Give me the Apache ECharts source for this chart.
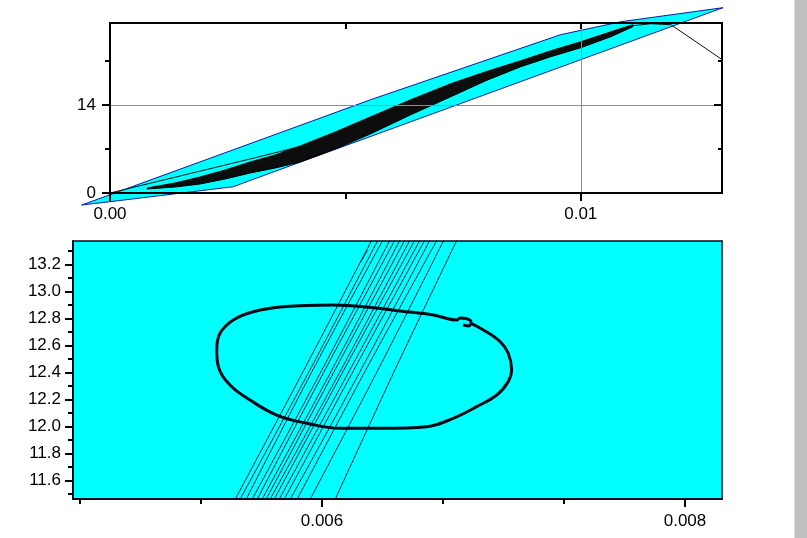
<!DOCTYPE html>
<html>
<head>
<meta charset="utf-8">
<script src="https://cdn.jsdelivr.net/npm/echarts@6/dist/echarts.min.js"></script>
<style>
  html, body { margin: 0; padding: 0; background: #fff; }
  #main { width: 807px; height: 538px; }
</style>
</head>
<body>
<div id="main"></div>
<script>
// tick values, top panel
var topXTicks = [0, 0.01];
var topXMinor = [0.005];
var topYTicks = [0, 14];
var topYMinor = [7, 21];

// tick values, bottom (zoomed) panel
var botXTicks = [0.006, 0.008];
var botXMinor = [0.004667, 0.005333, 0.006667, 0.007333];
var botYTicks = [11.6, 11.8, 12.0, 12.2, 12.4, 12.6, 12.8, 13.0, 13.2];
var botYMinor = [11.5, 11.7, 11.9, 12.1, 12.3, 12.5, 12.7, 12.9, 13.1, 13.3];

// cyan envelope in the top panel
var bandX = [-0.0006, 0.00553, 0.00957, 0.01085, 0.01302, 0.00283, 0.00262, 0, -0.0006];
var bandY = [-1.91, 14.8, 25.14, 27.2, 29.43, 1.59, 1.0, -1.38, -1.91];

// dense bundle of loops (black wedge): lower edge then upper edge
var loopX = [0.000787, 0.001383, 0.001915, 0.002447, 0.002979, 0.003511, 0.004043, 0.004787, 0.005532,
             0.006383, 0.007234, 0.007979, 0.008723, 0.009362, 0.01, 0.010638, 0.011106,
             0.011106, 0.010638, 0.01, 0.009362, 0.008723, 0.007979, 0.007234, 0.006383, 0.005532,
             0.004787, 0.004043, 0.003511, 0.002979, 0.002447, 0.001915, 0.001383, 0.000787];
var loopY = [0.64, 0.955, 1.43, 2.23, 3.18, 3.98, 4.93, 7.0, 9.39,
             12.41, 15.27, 17.82, 20.05, 21.64, 23.07, 24.82, 26.41,
             26.73, 25.61, 24.02, 22.59, 21.0, 19.25, 17.34, 14.8, 12.09,
             9.7, 7.48, 6.05, 4.93, 3.66, 2.55, 1.59, 0.8];

// thin lines at both ends of the bundle
var leadX = [0, 0.001489, 0.002979, 0.004043];
var leadY = [0, 2.705, 5.409, 7.4];
var tailX = [0.011106, 0.011489, 0.011915, 0.013];
var tailY = [26.57, 26.89, 26.73, 21.2];

// bottom panel: thick closed loop
var ringX = [0.006815, 0.006889, 0.006981, 0.007026, 0.007045, 0.007026, 0.006963, 0.006852, 0.006723,
             0.006577, 0.006338, 0.006099, 0.005916, 0.00575, 0.005603, 0.005493, 0.005429, 0.00542,
             0.005438, 0.005511, 0.005621, 0.005787, 0.006062, 0.006283, 0.00643, 0.006613, 0.006742,
             0.00676, 0.006793, 0.006821, 0.00681, 0.006777];
var ringY = [12.766, 12.714, 12.628, 12.542, 12.418, 12.332, 12.233, 12.147, 12.061,
             11.999, 11.987, 11.987, 12.024, 12.085, 12.196, 12.307, 12.443, 12.566,
             12.69, 12.788, 12.849, 12.886, 12.899, 12.879, 12.855, 12.825, 12.788,
             12.803, 12.799, 12.773, 12.744, 12.751];

// bottom panel: thin crossing lines, x at three heights
var fiberY = [11.46, 12.42, 13.38];
var fiberBotX = [0.005521, 0.005548, 0.005581, 0.005614, 0.005642, 0.005669, 0.005691, 0.005713,
                 0.005736, 0.005763, 0.005791, 0.005824, 0.005862, 0.005934, 0.006072];
var fiberMidX = [0.005901, 0.005934, 0.00595, 0.006, 0.006017, 0.006055, 0.006072, 0.006105,
                 0.006121, 0.006154, 0.006176, 0.006215, 0.006242, 0.006309, 0.006402];
var fiberTopX = [0.006275, 0.006309, 0.006336, 0.006375, 0.006402, 0.00643, 0.006457, 0.006485,
                 0.006512, 0.00654, 0.006567, 0.006595, 0.006634, 0.006672, 0.006744];
var kinkX = [0.006228, 0.006212, 0.006242, 0.006252];
var kinkY = [13.25, 13.217, 13.284, 13.30];

var font = { fontFamily: 'Liberation Sans, Arial, sans-serif', fontSize: 17, color: '#000' };
var ink = '#000';

function pairs(xs, ys) {
  return xs.map(function (x, i) { return [x, ys[i]]; });
}

function tickAxis(extra) {
  var base = {
    z: 5,
    axisLine: { show: false, onZero: false },
    axisTick: { show: false },
    axisLabel: { show: false },
    splitLine: { show: false }
  };
  return Object.assign(base, extra);
}

var myChart = echarts.init(document.getElementById('main'), null, { renderer: 'canvas' });

var fiberSeries = fiberBotX.map(function (b, i) {
  return {
    type: 'line', xAxisIndex: 3, yAxisIndex: 4, z: 3, silent: true,
    showSymbol: false, symbol: 'none', smooth: 0.3,
    lineStyle: { color: '#0b1a38', width: 1 },
    data: [[b, fiberY[0]], [fiberMidX[i], fiberY[1]], [fiberTopX[i], fiberY[2]]]
  };
});

var topX = { type: 'value', gridIndex: 0, min: 0, max: 0.013 };
var topY = { type: 'value', gridIndex: 0, min: 0, max: 27 };
var botX = { type: 'value', gridIndex: 1, min: 0.004628, max: 0.008204 };
var botY = { type: 'value', gridIndex: 1, min: 11.464, max: 13.372 };

let option = {
  animation: false,
  backgroundColor: '#fff',
  grid: [
    { left: 110, top: 23, width: 612, height: 170, outerBoundsMode: 'none', show: false },
    { left: 73, top: 241, width: 649, height: 258, outerBoundsMode: 'none', show: true,
      backgroundColor: '#00ffff', borderWidth: 0 }
  ],
  xAxis: [
    tickAxis(Object.assign({}, topX, {
      position: 'bottom',
      axisLine: { show: true, onZero: false, lineStyle: { color: ink, width: 2 } },
      axisTick: { show: true, length: 8, customValues: topXTicks, lineStyle: { color: ink, width: 2 } },
      axisLabel: Object.assign({ show: true, margin: 13, customValues: topXTicks,
        formatter: function (v) { return v.toFixed(2); } }, font),
      splitLine: { show: true, lineStyle: { color: '#8c8c8c', width: 1 } }
    })),
    tickAxis(Object.assign({}, topX, {
      position: 'bottom',
      axisTick: { show: true, length: 6, customValues: topXMinor, lineStyle: { color: ink, width: 2 } }
    })),
    tickAxis(Object.assign({}, topX, {
      position: 'top',
      axisLine: { show: true, onZero: false, lineStyle: { color: ink, width: 2 } },
      axisTick: { show: true, inside: true, length: 6, customValues: [0.005, 0.01], lineStyle: { color: ink, width: 2 } }
    })),
    tickAxis(Object.assign({}, botX, {
      position: 'bottom',
      axisLine: { show: true, onZero: false, lineStyle: { color: '#0a0a20', width: 2 } },
      axisTick: { show: true, length: 8, customValues: botXTicks, lineStyle: { color: ink, width: 2 } },
      axisLabel: Object.assign({ show: true, margin: 14, customValues: botXTicks,
        formatter: function (v) { return v.toFixed(3); } }, font)
    })),
    tickAxis(Object.assign({}, botX, {
      position: 'bottom',
      axisTick: { show: true, length: 5, customValues: botXMinor, lineStyle: { color: ink, width: 2 } }
    })),
    tickAxis(Object.assign({}, botX, {
      position: 'top',
      axisLine: { show: true, onZero: false, lineStyle: { color: '#0a0a20', width: 1.5 } }
    }))
  ],
  yAxis: [
    tickAxis(Object.assign({}, topY, {
      position: 'left',
      axisLine: { show: true, onZero: false, lineStyle: { color: ink, width: 2 } },
      axisTick: { show: true, length: 8, customValues: topYTicks, lineStyle: { color: ink, width: 2 } },
      axisLabel: Object.assign({ show: true, margin: 14, customValues: topYTicks }, font),
      splitLine: { show: true, lineStyle: { color: '#8c8c8c', width: 1 } }
    })),
    tickAxis(Object.assign({}, topY, {
      position: 'left',
      axisTick: { show: true, length: 5, customValues: topYMinor, lineStyle: { color: ink, width: 2 } }
    })),
    tickAxis(Object.assign({}, topY, {
      position: 'right',
      axisLine: { show: true, onZero: false, lineStyle: { color: ink, width: 2 } },
      axisTick: { show: true, inside: true, length: 8, customValues: [14], lineStyle: { color: ink, width: 2 } }
    })),
    tickAxis(Object.assign({}, topY, {
      position: 'right',
      axisTick: { show: true, inside: true, length: 4, customValues: topYMinor, lineStyle: { color: ink, width: 2 } }
    })),
    tickAxis(Object.assign({}, botY, {
      position: 'left',
      axisLine: { show: true, onZero: false, lineStyle: { color: '#0a0a20', width: 2 } },
      axisTick: { show: true, length: 8, customValues: botYTicks, lineStyle: { color: ink, width: 2 } },
      axisLabel: Object.assign({ show: true, margin: 12, customValues: botYTicks,
        formatter: function (v) { return v.toFixed(1); } }, font)
    })),
    tickAxis(Object.assign({}, botY, {
      position: 'left',
      axisTick: { show: true, length: 5, customValues: botYMinor, lineStyle: { color: ink, width: 2 } }
    })),
    tickAxis(Object.assign({}, botY, {
      position: 'right',
      axisLine: { show: true, onZero: false, lineStyle: { color: '#0a0a20', width: 1.5 } }
    }))
  ],
  graphic: [
    { type: 'rect', left: 794, top: 0, z: 10, shape: { width: 13, height: 538 },
      style: { fill: '#c0c0c0' } },
    { type: 'rect', left: 794, top: 0, z: 11, shape: { width: 1, height: 538 },
      style: { fill: '#dcdcdc' } }
  ],
  series: [
    {
      type: 'custom', xAxisIndex: 0, yAxisIndex: 0, z: 1, silent: true, clip: false,
      data: [[0.005, 10]],
      renderItem: function (params, api) {
        return {
          type: 'polygon',
          shape: { points: bandX.map(function (x, i) { return api.coord([x, bandY[i]]); }) },
          style: { fill: '#00ffff', stroke: '#0a1aa8', lineWidth: 1 }
        };
      }
    },
    {
      type: 'custom', xAxisIndex: 0, yAxisIndex: 0, z: 2, silent: true, clip: false,
      data: [[0.005, 10]],
      renderItem: function (params, api) {
        return {
          type: 'polygon',
          shape: { points: loopX.map(function (x, i) { return api.coord([x, loopY[i]]); }) },
          style: { fill: '#0d0d0d', stroke: '#000', lineWidth: 1 }
        };
      }
    },
    {
      type: 'line', xAxisIndex: 0, yAxisIndex: 0, z: 3, silent: true, showSymbol: false, symbol: 'none',
      lineStyle: { color: '#111', width: 1 },
      data: pairs(leadX, leadY)
    },
    {
      type: 'line', xAxisIndex: 0, yAxisIndex: 0, z: 3, silent: true, showSymbol: false, symbol: 'none',
      lineStyle: { color: '#111', width: 1 },
      data: pairs(tailX, tailY)
    },
    {
      type: 'line', xAxisIndex: 3, yAxisIndex: 4, z: 3, silent: true, showSymbol: false, symbol: 'none',
      lineStyle: { color: '#0b1a38', width: 1 },
      data: pairs(kinkX, kinkY)
    },
    {
      type: 'line', xAxisIndex: 3, yAxisIndex: 4, z: 4, silent: true, showSymbol: false, symbol: 'none',
      smooth: 0.4,
      lineStyle: { color: '#050a18', width: 3 },
      data: pairs(ringX, ringY)
    }
  ].concat(fiberSeries)
};

myChart.setOption(option);
</script>
</body>
</html>
